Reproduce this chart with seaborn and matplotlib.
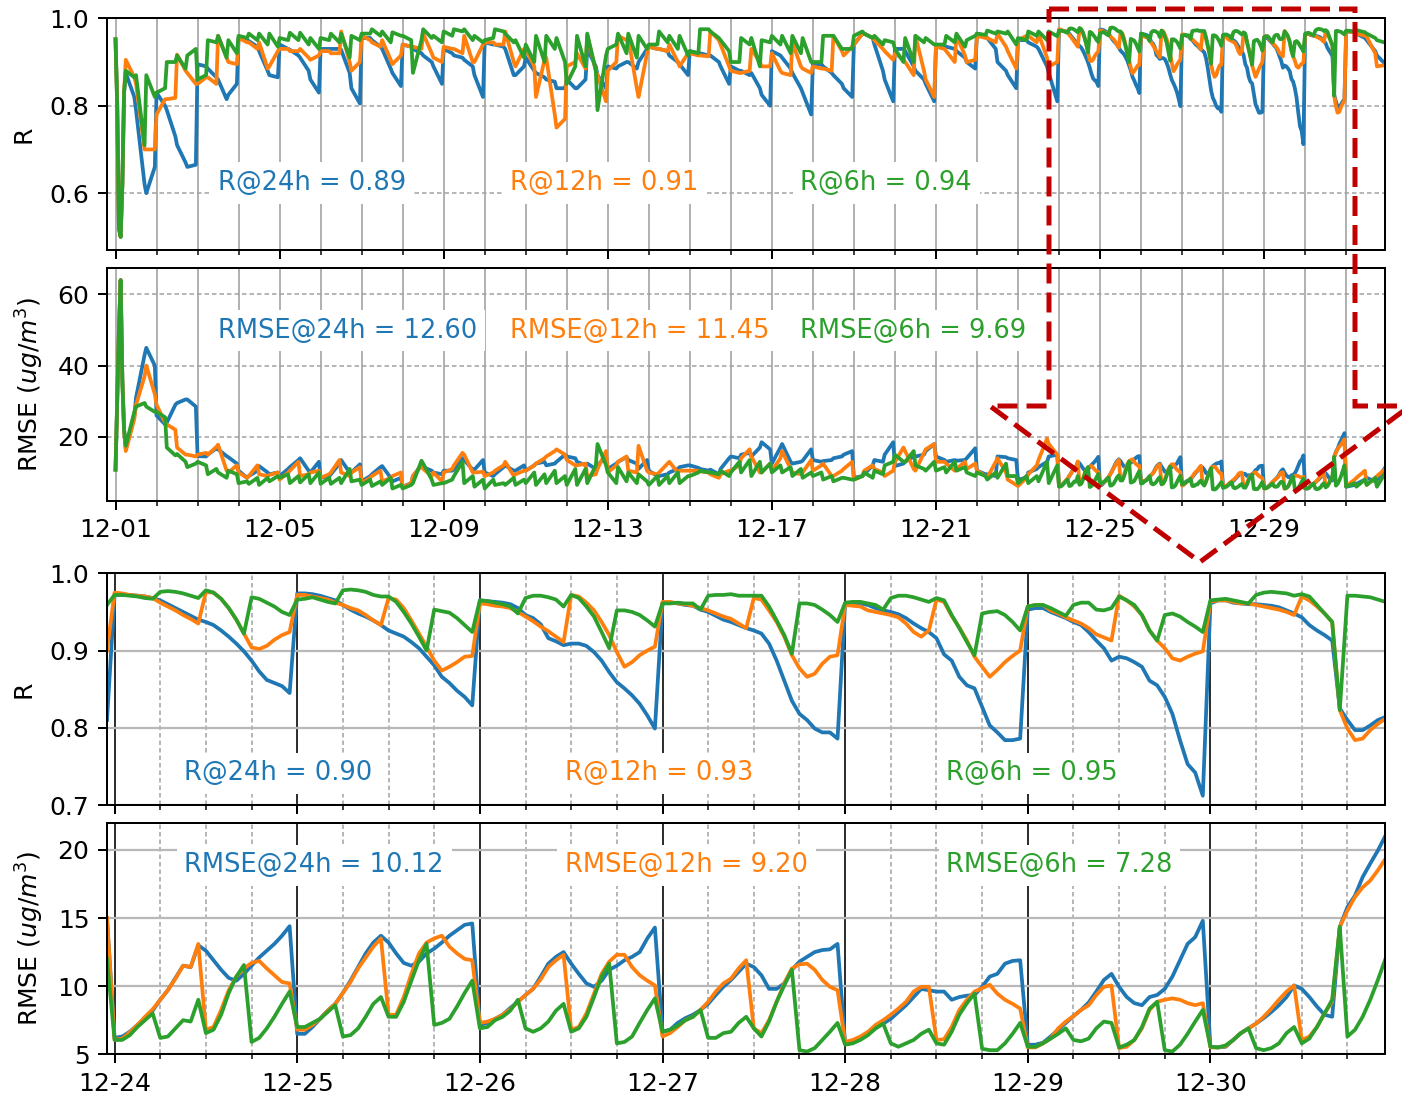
import pandas as pd
import matplotlib
matplotlib.use('Agg')
import matplotlib.pyplot as plt
import matplotlib.dates as mdates
from matplotlib.patches import Polygon
import seaborn as sns

# sampled hours within a day (full-month panels); zoom panels are hourly
DAY0_HOURS = [0, 1, 2, 3, 4, 5, 6, 11, 12, 17, 18, 23]
DAY_HOURS = [0, 5, 6, 11, 12, 17, 18, 23]
START = pd.Timestamp('2019-12-01')

LEADS = ['24h', '12h', '6h']
COLORS = ['#1f77b4', '#ff7f0e', '#2ca02c']

# ---------------- R, 12-01 ----------------
r24_dec01 = [0.952, 0.80, 0.52, 0.50, 0.62, 0.83, 0.875, 0.82, 0.79, 0.62, 0.60, 0.66]
r12_dec01 = [0.952, 0.80, 0.52, 0.50, 0.62, 0.83, 0.905, 0.865, 0.85, 0.70, 0.70, 0.70]
r6_dec01 = [0.952, 0.80, 0.52, 0.50, 0.62, 0.83, 0.88, 0.865, 0.87, 0.71, 0.87, 0.82]

# ---------------- R, 12-02 .. 12-23 (DAY_HOURS) ----------------
r24_early = [
    [0.83, 0.80, 0.79, 0.73, 0.71, 0.67, 0.66, 0.665],
    [0.895, 0.89, 0.885, 0.865, 0.86, 0.815, 0.825, 0.85],
    [0.955, 0.95, 0.948, 0.935, 0.925, 0.88, 0.87, 0.865],
    [0.94, 0.93, 0.928, 0.915, 0.91, 0.88, 0.86, 0.83],
    [0.93, 0.93, 0.93, 0.93, 0.928, 0.875, 0.84, 0.805],
    [0.955, 0.955, 0.95, 0.935, 0.93, 0.885, 0.875, 0.845],
    [0.94, 0.935, 0.93, 0.92, 0.915, 0.90, 0.89, 0.85],
    [0.93, 0.92, 0.915, 0.91, 0.905, 0.89, 0.87, 0.82],
    [0.945, 0.94, 0.94, 0.935, 0.93, 0.87, 0.87, 0.89],
    [0.91, 0.88, 0.875, 0.865, 0.86, 0.855, 0.84, 0.84],
    [0.86, 0.84, 0.84, 0.86, 0.93, 0.89, 0.87, 0.84],
    [0.89, 0.885, 0.89, 0.90, 0.90, 0.885, 0.90, 0.93],
    [0.935, 0.93, 0.93, 0.925, 0.915, 0.90, 0.895, 0.87],
    [0.925, 0.92, 0.92, 0.915, 0.915, 0.90, 0.89, 0.85],
    [0.89, 0.88, 0.88, 0.87, 0.875, 0.84, 0.825, 0.80],
    [0.925, 0.915, 0.91, 0.885, 0.875, 0.84, 0.83, 0.78],
    [0.895, 0.895, 0.89, 0.875, 0.87, 0.85, 0.84, 0.82],
    [0.94, 0.965, 0.965, 0.955, 0.94, 0.88, 0.86, 0.81],
    [0.93, 0.93, 0.925, 0.89, 0.88, 0.86, 0.85, 0.81],
    [0.935, 0.936, 0.935, 0.93, 0.925, 0.91, 0.90, 0.885],
    [0.965, 0.96, 0.955, 0.93, 0.90, 0.88, 0.87, 0.84],
    [0.95, 0.95, 0.945, 0.935, 0.93, 0.89, 0.875, 0.81],
]
r12_early = [
    [0.78, 0.815, 0.815, 0.818, 0.917, 0.88, 0.875, 0.85],
    [0.85, 0.865, 0.865, 0.85, 0.96, 0.91, 0.90, 0.895],
    [0.955, 0.945, 0.945, 0.93, 0.945, 0.885, 0.89, 0.925],
    [0.93, 0.93, 0.925, 0.925, 0.93, 0.91, 0.905, 0.915],
    [0.925, 0.925, 0.92, 0.92, 0.97, 0.90, 0.88, 0.90],
    [0.96, 0.95, 0.945, 0.935, 0.95, 0.905, 0.895, 0.915],
    [0.94, 0.935, 0.935, 0.93, 0.965, 0.92, 0.91, 0.90],
    [0.935, 0.93, 0.93, 0.92, 0.96, 0.90, 0.90, 0.94],
    [0.945, 0.945, 0.94, 0.94, 0.97, 0.90, 0.89, 0.93],
    [0.93, 0.89, 0.82, 0.905, 0.91, 0.78, 0.75, 0.77],
    [0.89, 0.90, 0.92, 0.885, 0.96, 0.88, 0.87, 0.81],
    [0.88, 0.90, 0.96, 0.95, 0.955, 0.84, 0.82, 0.92],
    [0.935, 0.93, 0.93, 0.925, 0.94, 0.90, 0.89, 0.92],
    [0.92, 0.915, 0.915, 0.913, 0.97, 0.95, 0.94, 0.89],
    [0.88, 0.875, 0.875, 0.88, 0.93, 0.90, 0.89, 0.89],
    [0.92, 0.88, 0.875, 0.87, 0.945, 0.89, 0.885, 0.875],
    [0.89, 0.885, 0.885, 0.88, 0.96, 0.925, 0.915, 0.935],
    [0.94, 0.965, 0.965, 0.955, 0.95, 0.93, 0.925, 0.905],
    [0.92, 0.905, 0.90, 0.87, 0.96, 0.88, 0.86, 0.82],
    [0.935, 0.93, 0.925, 0.90, 0.96, 0.915, 0.90, 0.905],
    [0.96, 0.955, 0.955, 0.945, 0.965, 0.935, 0.925, 0.885],
    [0.95, 0.96, 0.96, 0.945, 0.965, 0.91, 0.89, 0.90],
]
r6_early = [
    [0.83, 0.84, 0.90, 0.90, 0.915, 0.885, 0.915, 0.93],
    [0.86, 0.87, 0.95, 0.945, 0.96, 0.91, 0.95, 0.92],
    [0.96, 0.955, 0.965, 0.95, 0.965, 0.94, 0.965, 0.935],
    [0.955, 0.95, 0.967, 0.95, 0.967, 0.94, 0.955, 0.93],
    [0.955, 0.95, 0.965, 0.945, 0.965, 0.91, 0.96, 0.95],
    [0.965, 0.965, 0.975, 0.96, 0.97, 0.945, 0.968, 0.96],
    [0.96, 0.95, 0.875, 0.95, 0.975, 0.955, 0.96, 0.945],
    [0.97, 0.96, 0.975, 0.97, 0.975, 0.95, 0.96, 0.945],
    [0.95, 0.955, 0.975, 0.97, 0.965, 0.945, 0.95, 0.91],
    [0.94, 0.90, 0.96, 0.90, 0.96, 0.93, 0.955, 0.90],
    [0.85, 0.89, 0.96, 0.89, 0.965, 0.88, 0.79, 0.915],
    [0.93, 0.94, 0.965, 0.92, 0.965, 0.91, 0.96, 0.93],
    [0.94, 0.94, 0.97, 0.945, 0.96, 0.93, 0.96, 0.915],
    [0.925, 0.92, 0.975, 0.975, 0.97, 0.955, 0.95, 0.925],
    [0.90, 0.90, 0.955, 0.94, 0.955, 0.89, 0.95, 0.945],
    [0.96, 0.94, 0.96, 0.92, 0.96, 0.92, 0.955, 0.90],
    [0.90, 0.90, 0.96, 0.96, 0.96, 0.93, 0.93, 0.93],
    [0.96, 0.97, 0.965, 0.955, 0.96, 0.94, 0.95, 0.945],
    [0.93, 0.90, 0.955, 0.90, 0.96, 0.945, 0.955, 0.94],
    [0.94, 0.94, 0.96, 0.945, 0.965, 0.935, 0.95, 0.96],
    [0.965, 0.962, 0.972, 0.965, 0.97, 0.965, 0.97, 0.94],
    [0.955, 0.95, 0.97, 0.96, 0.97, 0.95, 0.97, 0.959],
]

# ---------------- R, 12-24 .. 12-30 (hourly) ----------------
r24_zoom = [
    [0.972, 0.972, 0.972, 0.971, 0.970, 0.968, 0.965, 0.960, 0.955, 0.950, 0.945, 0.940,
     0.937, 0.933, 0.926, 0.918, 0.909, 0.899, 0.887, 0.873, 0.862, 0.858, 0.854, 0.845],
    [0.974, 0.974, 0.973, 0.971, 0.968, 0.965, 0.959, 0.953, 0.948, 0.944, 0.939, 0.933,
     0.926, 0.922, 0.918, 0.911, 0.903, 0.892, 0.881, 0.866, 0.858, 0.848, 0.840, 0.829],
    [0.965, 0.964, 0.963, 0.962, 0.960, 0.955, 0.946, 0.942, 0.934, 0.916, 0.912, 0.907,
     0.909, 0.909, 0.906, 0.898, 0.887, 0.872, 0.859, 0.851, 0.842, 0.831, 0.816, 0.799],
    [0.961, 0.962, 0.961, 0.959, 0.958, 0.953, 0.950, 0.945, 0.940, 0.937, 0.933, 0.929,
     0.926, 0.922, 0.909, 0.887, 0.861, 0.835, 0.818, 0.810, 0.799, 0.794, 0.794, 0.786],
    [0.961, 0.962, 0.961, 0.959, 0.955, 0.952, 0.950, 0.947, 0.942, 0.935, 0.929, 0.924,
     0.916, 0.895, 0.887, 0.866, 0.855, 0.851, 0.827, 0.803, 0.794, 0.784, 0.784, 0.786],
    [0.953, 0.955, 0.955, 0.950, 0.946, 0.942, 0.937, 0.933, 0.924, 0.913, 0.903, 0.887,
     0.892, 0.890, 0.885, 0.879, 0.861, 0.855, 0.840, 0.818, 0.784, 0.753, 0.742, 0.712],
    [0.961, 0.965, 0.965, 0.962, 0.961, 0.960, 0.960, 0.959, 0.958, 0.956, 0.952, 0.948,
     0.943, 0.933, 0.926, 0.920, 0.913, 0.825, 0.810, 0.797, 0.797, 0.803, 0.810, 0.814],
]
r12_zoom = [
    [0.975, 0.974, 0.972, 0.971, 0.970, 0.968, 0.962, 0.957, 0.952, 0.946, 0.941, 0.935,
     0.976, 0.975, 0.967, 0.955, 0.940, 0.922, 0.904, 0.902, 0.906, 0.914, 0.920, 0.924],
    [0.972, 0.972, 0.970, 0.968, 0.966, 0.962, 0.959, 0.955, 0.952, 0.946, 0.939, 0.933,
     0.968, 0.966, 0.955, 0.939, 0.922, 0.905, 0.887, 0.874, 0.879, 0.885, 0.892, 0.893],
    [0.961, 0.960, 0.958, 0.957, 0.955, 0.950, 0.944, 0.938, 0.931, 0.925, 0.918, 0.911,
     0.972, 0.970, 0.962, 0.952, 0.937, 0.920, 0.898, 0.879, 0.885, 0.894, 0.900, 0.905],
    [0.963, 0.963, 0.961, 0.960, 0.958, 0.955, 0.952, 0.948, 0.944, 0.941, 0.935, 0.929,
     0.968, 0.966, 0.952, 0.937, 0.918, 0.894, 0.877, 0.866, 0.870, 0.883, 0.892, 0.894],
    [0.959, 0.958, 0.957, 0.952, 0.950, 0.948, 0.946, 0.943, 0.935, 0.924, 0.918, 0.926,
     0.966, 0.963, 0.945, 0.930, 0.913, 0.892, 0.879, 0.866, 0.875, 0.885, 0.893, 0.900],
    [0.957, 0.959, 0.959, 0.952, 0.948, 0.943, 0.939, 0.935, 0.929, 0.921, 0.917, 0.913,
     0.971, 0.965, 0.957, 0.946, 0.926, 0.913, 0.903, 0.890, 0.887, 0.892, 0.896, 0.899],
    [0.963, 0.965, 0.965, 0.963, 0.961, 0.961, 0.959, 0.957, 0.955, 0.953, 0.950, 0.946,
     0.970, 0.965, 0.957, 0.948, 0.937, 0.823, 0.799, 0.784, 0.786, 0.797, 0.805, 0.812],
]
r6_zoom = [
    [0.972, 0.972, 0.971, 0.970, 0.968, 0.967, 0.976, 0.977, 0.976, 0.974, 0.971, 0.968,
     0.978, 0.975, 0.967, 0.955, 0.940, 0.922, 0.969, 0.967, 0.962, 0.957, 0.950, 0.946],
    [0.966, 0.967, 0.969, 0.966, 0.963, 0.961, 0.978, 0.979, 0.978, 0.976, 0.972, 0.970,
     0.970, 0.963, 0.950, 0.935, 0.918, 0.900, 0.953, 0.951, 0.949, 0.942, 0.933, 0.924],
    [0.965, 0.964, 0.962, 0.960, 0.957, 0.948, 0.968, 0.971, 0.971, 0.969, 0.966, 0.957,
     0.972, 0.968, 0.957, 0.944, 0.924, 0.903, 0.952, 0.952, 0.950, 0.946, 0.939, 0.931],
    [0.961, 0.961, 0.962, 0.961, 0.961, 0.953, 0.971, 0.972, 0.972, 0.973, 0.971, 0.971,
     0.971, 0.971, 0.957, 0.939, 0.920, 0.896, 0.961, 0.961, 0.959, 0.953, 0.946, 0.937],
    [0.962, 0.963, 0.963, 0.961, 0.959, 0.953, 0.968, 0.971, 0.971, 0.969, 0.966, 0.963,
     0.968, 0.965, 0.946, 0.929, 0.911, 0.894, 0.948, 0.950, 0.951, 0.946, 0.937, 0.926],
    [0.957, 0.959, 0.959, 0.955, 0.950, 0.945, 0.959, 0.962, 0.962, 0.953, 0.952, 0.955,
     0.970, 0.965, 0.959, 0.946, 0.926, 0.913, 0.946, 0.948, 0.944, 0.937, 0.931, 0.924],
    [0.965, 0.966, 0.967, 0.965, 0.963, 0.961, 0.972, 0.975, 0.976, 0.975, 0.974, 0.971,
     0.973, 0.970, 0.959, 0.948, 0.937, 0.823, 0.971, 0.971, 0.970, 0.969, 0.966, 0.963],
]

# ---------------- R, 12-31 (DAY_HOURS) ----------------
r24_dec31 = [0.970, 0.968, 0.965, 0.955, 0.950, 0.925, 0.915, 0.895]
r12_dec31 = [0.970, 0.968, 0.965, 0.960, 0.958, 0.920, 0.890, 0.893]
r6_dec31 = [0.972, 0.970, 0.973, 0.968, 0.965, 0.955, 0.950, 0.944]

# ---------------- RMSE, 12-01 ----------------
rmse24_dec01 = [10.8, 30, 50, 64, 36, 22, 16.5, 26, 31, 43, 45, 40]
rmse12_dec01 = [10.8, 30, 50, 64, 36, 22, 16, 25, 29, 37, 40, 32]
rmse6_dec01 = [10.8, 30, 50, 64, 36, 22, 17.5, 27, 28.5, 29.5, 28.5, 27]

# ---------------- RMSE, 12-02 .. 12-23 (DAY_HOURS) ----------------
rmse24_early = [
    [26, 23.5, 24, 29, 29.5, 30.5, 30.5, 28.5],
    [14.6, 14.5, 15, 16.8, 16.5, 14.6, 14.3, 12.5],
    [10.5, 8.5, 9, 10.5, 11.8, 10, 9.5, 10],
    [9, 11, 11.5, 13.5, 14, 10.5, 10, 13],
    [8.5, 9, 9.5, 12.5, 13.5, 10, 10, 12.3],
    [7.5, 9, 9.5, 11.5, 11.8, 8.5, 7.5, 8.5],
    [6, 7, 9, 12, 11.5, 10.5, 10, 9.5],
    [10.5, 10.5, 10.8, 14, 13.5, 10.8, 10.8, 13.5],
    [10, 9, 9.5, 11.5, 12, 10.5, 10.5, 12],
    [10.5, 12, 12.5, 13, 12, 12.5, 13, 15],
    [14.5, 14, 13, 12, 12.5, 11, 12, 14.5],
    [11, 12.5, 13, 14.3, 13.5, 12.5, 11, 13.5],
    [10.5, 9, 9, 9.5, 10, 11, 11.5, 12],
    [12, 11.3, 11, 10.5, 10.8, 9.5, 11, 14],
    [14.5, 14, 15, 15.5, 14.5, 17, 18.5, 16.5],
    [12.5, 17, 18, 13, 12.5, 13, 13.3, 16.5],
    [13.5, 13, 13.2, 13.5, 14, 14.5, 15, 16],
    [8.5, 9, 9.5, 12, 13.5, 13, 15, 18.5],
    [11.8, 12.5, 13, 14.5, 14.5, 15, 16, 18],
    [14.5, 13.5, 13, 13.5, 13.3, 13.5, 14, 16.8],
    [10.5, 9.5, 9.5, 9, 14.5, 14.3, 14, 13.5],
    [8, 8.5, 10, 11, 11.5, 13, 14.5, 15],
]
rmse12_early = [
    [29, 24, 23.5, 22, 17, 15, 15, 14.5],
    [15, 15.5, 15, 17.2, 17.8, 10.5, 10, 12],
    [10, 8.5, 9, 12, 9.5, 9, 9.3, 10],
    [8, 10, 10.5, 13, 9, 9.5, 10, 10.5],
    [8.5, 9.5, 10, 13.5, 10, 9, 10, 11.5],
    [7, 8.5, 9, 10.5, 7.5, 8.5, 9, 10],
    [5.8, 7, 9, 12, 11, 9, 10, 7.5],
    [10, 11, 12, 15.5, 15, 10, 10, 10.2],
    [9, 10, 10.5, 12, 13, 9, 9.5, 10.5],
    [10.5, 12, 12.5, 14, 14.5, 16, 16.5, 15],
    [13.5, 12, 12, 12.5, 9, 9.5, 11, 16],
    [10, 12, 13, 14.5, 10.5, 10, 17.5, 10.5],
    [10, 9.5, 10, 12.5, 13, 10, 10.5, 10.5],
    [10.5, 10.5, 10.3, 10, 9.5, 8.5, 9.5, 10.5],
    [10.5, 12, 14, 16.5, 14.5, 10, 10, 12.5],
    [10.5, 14, 16, 11, 10, 9.5, 10, 13.5],
    [10.5, 12, 12.5, 9, 9, 10.5, 11, 13],
    [8, 9, 10.5, 12, 11, 10, 9, 10.5],
    [13, 17, 16, 11, 10.5, 15.5, 16.5, 18],
    [13, 13, 12.5, 10.5, 11, 13, 11, 12.5],
    [10.5, 9, 8.5, 13, 14, 10, 8, 6.5],
    [6.2, 8.5, 9.5, 12, 13.5, 19.5, 18, 15],
]
rmse6_early = [
    [27, 25.5, 17, 14.8, 15.2, 13, 11.5, 12.5],
    [13, 12, 9.5, 11, 10, 8.5, 10.5, 9.5],
    [7, 7.5, 6.8, 8.5, 6.5, 8.5, 7.5, 9],
    [8.5, 9.5, 7, 9, 7.2, 9.5, 7, 10],
    [6.8, 8.5, 6.8, 8.5, 7, 11, 7.5, 8],
    [6.5, 8, 6.2, 7.5, 6.5, 8.5, 5.5, 6.5],
    [5.5, 6.5, 7, 13.3, 12.5, 8, 6.5, 7],
    [7, 8, 9, 13, 7, 9, 6, 8],
    [5.5, 8, 6.5, 7, 6.5, 8.5, 6.5, 8],
    [7, 10, 6.5, 9.5, 7, 10.5, 7, 9],
    [6.5, 11, 6.5, 11, 7, 12, 18, 12],
    [10, 7, 11.5, 7.5, 10, 7, 9.5, 7.5],
    [6.5, 9, 6.5, 9, 7, 10, 7, 9],
    [9, 10, 10.5, 10, 10, 9.5, 10.5, 9],
    [10, 13, 10, 13.5, 9, 13, 10, 12.5],
    [10, 12, 10, 11.5, 9, 11, 8.5, 10],
    [9, 10, 8, 9, 7.5, 8.5, 8.5, 8],
    [8, 9, 10, 8.5, 10.5, 9.5, 12, 13],
    [15, 13, 13, 16, 12, 11, 10.5, 13],
    [10.5, 11.5, 10, 13, 10.5, 11.5, 10, 9],
    [10, 9, 8, 10, 8.5, 12.5, 9, 9],
    [7, 9, 7, 9, 7.5, 13, 7, 12],
]

# ---------------- RMSE, 12-24 .. 12-30 (hourly) ----------------
rmse24_zoom = [
    [6.2, 6.3, 6.65, 7.15, 7.6, 8.2, 9.0, 9.7, 10.6, 11.5, 11.4, 13.0,
     12.6, 11.9, 11.2, 10.6, 10.4, 10.9, 11.5, 12.1, 12.6, 13.1, 13.7, 14.4],
    [6.5, 6.5, 7.0, 7.6, 8.2, 8.7, 9.5, 10.4, 11.4, 12.4, 13.2, 13.7,
     13.2, 12.4, 11.7, 11.5, 11.8, 12.4, 12.75, 13.2, 13.7, 14.1, 14.5, 14.6],
    [7.15, 7.3, 7.6, 7.9, 8.4, 8.85, 9.35, 9.8, 10.7, 11.65, 12.15, 12.5,
     11.65, 10.9, 10.2, 9.95, 10.4, 11.2, 11.5, 11.9, 12.15, 12.5, 13.5, 14.3],
    [6.65, 6.8, 7.3, 7.65, 7.9, 8.25, 8.7, 9.35, 9.95, 10.45, 11.05, 11.65,
     11.4, 10.8, 9.8, 9.8, 10.2, 11.2, 11.8, 12.15, 12.5, 12.65, 12.7, 13.1],
    [5.8, 5.9, 6.15, 6.5, 6.9, 7.25, 7.6, 8.1, 8.6, 9.2, 9.8, 9.7,
     9.6, 9.6, 9.0, 9.2, 9.3, 9.35, 9.95, 10.7, 10.9, 11.65, 11.85, 11.9],
    [5.7, 5.7, 5.85, 6.3, 6.8, 7.3, 7.8, 8.25, 8.8, 9.6, 10.45, 10.9,
     9.95, 9.2, 8.75, 8.6, 9.2, 9.35, 9.8, 10.7, 11.9, 13.1, 13.6, 14.8],
    [5.55, 5.5, 5.55, 6.05, 6.55, 6.9, 7.25, 7.65, 8.1, 8.6, 9.2, 10.05,
     9.8, 9.2, 8.5, 7.9, 7.75, 14.35, 15.8, 16.65, 18.0, 19.0, 19.95, 21.05],
]
rmse12_zoom = [
    [6.05, 6.15, 6.6, 7.15, 7.75, 8.3, 9.0, 9.7, 10.55, 11.5, 11.4, 13.1,
     6.8, 7.0, 8.25, 9.7, 10.7, 11.3, 11.7, 11.85, 11.3, 10.8, 10.3, 10.2],
    [6.8, 6.8, 7.15, 7.6, 8.2, 8.7, 9.5, 10.3, 11.3, 12.1, 12.9, 13.5,
     7.9, 7.9, 9.2, 10.9, 12.4, 13.2, 13.5, 13.7, 12.9, 12.4, 12.0, 11.9],
    [7.3, 7.4, 7.6, 7.9, 8.3, 8.85, 9.35, 9.8, 10.5, 11.4, 11.9, 12.3,
     6.8, 7.0, 8.0, 9.45, 10.9, 11.8, 12.3, 12.3, 11.4, 10.8, 10.4, 10.05],
    [6.3, 6.55, 7.0, 7.5, 7.75, 8.25, 8.85, 9.6, 10.2, 10.55, 11.3, 11.9,
     6.9, 6.55, 7.5, 8.85, 10.2, 11.3, 11.6, 11.65, 11.2, 10.45, 9.95, 9.7],
    [5.9, 6.05, 6.3, 6.65, 7.15, 7.5, 7.9, 8.35, 8.85, 9.6, 9.95, 9.95,
     6.05, 6.1, 7.0, 8.25, 9.0, 9.6, 9.85, 10.1, 9.45, 9.0, 8.7, 8.35],
    [5.5, 5.5, 5.8, 6.15, 6.9, 7.4, 7.8, 8.25, 8.6, 9.35, 9.95, 10.05,
     5.45, 5.55, 6.05, 6.9, 8.25, 8.85, 9.0, 9.1, 9.0, 8.75, 8.6, 8.75],
    [5.5, 5.5, 5.6, 6.05, 6.55, 6.9, 7.25, 7.75, 8.35, 9.0, 9.6, 10.05,
     6.05, 6.3, 7.0, 8.0, 8.85, 14.35, 15.55, 16.55, 17.25, 17.75, 18.5, 19.35],
]
rmse6_zoom = [
    [6.05, 6.05, 6.4, 7.0, 7.5, 8.0, 6.2, 6.3, 6.9, 7.5, 7.4, 9.0,
     6.55, 6.8, 7.9, 9.5, 10.7, 11.55, 5.9, 6.2, 6.9, 7.75, 8.7, 9.6],
    [7.0, 7.0, 7.3, 7.6, 8.1, 8.6, 6.3, 6.4, 6.9, 7.75, 8.7, 9.2,
     7.75, 7.75, 8.85, 10.4, 11.9, 13.1, 7.15, 7.3, 7.6, 8.5, 9.5, 10.4],
    [6.9, 7.0, 7.5, 7.75, 8.2, 9.0, 6.9, 6.65, 6.9, 7.4, 8.2, 8.7,
     6.65, 6.9, 7.75, 9.2, 10.7, 11.65, 5.8, 5.9, 6.3, 7.3, 8.25, 9.1],
    [6.65, 6.8, 7.1, 7.5, 7.75, 8.25, 6.2, 6.2, 6.55, 6.65, 7.3, 7.75,
     6.9, 6.3, 7.4, 8.85, 10.05, 11.2, 5.3, 5.2, 5.45, 6.05, 6.65, 7.3],
    [5.7, 5.8, 6.05, 6.4, 6.9, 7.25, 5.8, 5.55, 5.8, 6.05, 6.5, 6.8,
     5.8, 5.7, 6.65, 7.9, 8.75, 9.45, 5.4, 5.3, 5.3, 5.8, 6.5, 7.3],
    [5.55, 5.55, 5.8, 6.15, 6.5, 6.9, 6.05, 5.95, 6.15, 6.9, 7.4, 7.3,
     5.5, 5.7, 6.05, 7.0, 8.35, 8.85, 5.3, 5.2, 5.7, 6.5, 7.4, 8.25],
    [5.55, 5.5, 5.65, 6.05, 6.55, 6.9, 5.45, 5.3, 5.45, 5.8, 6.55, 7.0,
     5.8, 6.15, 7.0, 8.0, 9.0, 14.35, 6.3, 6.8, 7.75, 9.0, 10.45, 12.0],
]

# ---------------- RMSE, 12-31 (DAY_HOURS) ----------------
rmse24_dec31 = [6, 6.5, 6.8, 8, 8.5, 7.5, 8, 11.5]
rmse12_dec31 = [6.2, 8, 8.5, 10.5, 6.5, 8.5, 9, 11]
rmse6_dec31 = [6, 7, 6, 8, 6.5, 8.5, 6, 10]

# annotation texts
top_r_text = ['R@24h = 0.89', 'R@12h = 0.91', 'R@6h = 0.94']
top_rmse_text = ['RMSE@24h = 12.60', 'RMSE@12h = 11.45', 'RMSE@6h = 9.69']
zoom_r_text = ['R@24h = 0.90', 'R@12h = 0.93', 'R@6h = 0.95']
zoom_rmse_text = ['RMSE@24h = 10.12', 'RMSE@12h = 9.20', 'RMSE@6h = 7.28']


def stamps(day, hours):
    return [START + pd.Timedelta(days=day, hours=int(h)) for h in hours]


def flat(rows):
    return [v for row in rows for v in row]


top_times = (stamps(0, DAY0_HOURS)
             + flat(stamps(d, DAY_HOURS) for d in range(1, 23))
             + stamps(23, range(24 * 7))
             + stamps(30, DAY_HOURS))
zoom_times = stamps(22, [23]) + stamps(23, range(24 * 7))


def month_frame(series):
    parts = []
    for lead, (d01, early, zoom, d31) in zip(LEADS, series):
        vals = d01 + flat(early) + flat(zoom) + d31
        parts.append(pd.DataFrame({'time': top_times, 'value': vals, 'lead': lead}))
    return pd.concat(parts, ignore_index=True)


def zoom_frame(series):
    parts = []
    for lead, (early, zoom) in zip(LEADS, series):
        vals = [early[-1][-1]] + flat(zoom)
        parts.append(pd.DataFrame({'time': zoom_times, 'value': vals, 'lead': lead}))
    return pd.concat(parts, ignore_index=True)


top_r = month_frame([(r24_dec01, r24_early, r24_zoom, r24_dec31),
                     (r12_dec01, r12_early, r12_zoom, r12_dec31),
                     (r6_dec01, r6_early, r6_zoom, r6_dec31)])
top_rmse = month_frame([(rmse24_dec01, rmse24_early, rmse24_zoom, rmse24_dec31),
                        (rmse12_dec01, rmse12_early, rmse12_zoom, rmse12_dec31),
                        (rmse6_dec01, rmse6_early, rmse6_zoom, rmse6_dec31)])
bot_r = zoom_frame([(r24_early, r24_zoom), (r12_early, r12_zoom), (r6_early, r6_zoom)])
bot_rmse = zoom_frame([(rmse24_early, rmse24_zoom), (rmse12_early, rmse12_zoom),
                       (rmse6_early, rmse6_zoom)])

plt.rcParams['font.family'] = ['DejaVu Sans']
plt.rcParams['font.size'] = 10

fig = plt.figure(figsize=(1402 / 180, 1096 / 180), dpi=180)
L, W = 0.0763, 0.9119
ax1 = fig.add_axes([L, 0.7719, W, 0.2114])
ax2 = fig.add_axes([L, 0.5429, W, 0.2129])
ax3 = fig.add_axes([L, 0.2655, W, 0.2114])
ax4 = fig.add_axes([L, 0.0381, W, 0.2113])

for ax, df in [(ax1, top_r), (ax2, top_rmse), (ax3, bot_r), (ax4, bot_rmse)]:
    sns.lineplot(data=df, x='time', y='value', hue='lead', hue_order=LEADS,
                 palette=COLORS, estimator=None, legend=False, lw=1.5, ax=ax)
    ax.set_xlabel('')

dash = (0, (3, 2))
for ax in (ax1, ax2):
    ax.set_xlim(START - pd.Timedelta(hours=5), START + pd.Timedelta(days=30, hours=23))
    ax.xaxis.set_major_locator(mdates.DayLocator(bymonthday=[1, 5, 9, 13, 17, 21, 25, 29]))
    ax.xaxis.set_minor_locator(mdates.DayLocator())
    ax.xaxis.set_major_formatter(mdates.DateFormatter('%m-%d'))
    ax.grid(True, which='both', axis='x', color='#a8a8a8', lw=0.7, ls='-')
    ax.grid(True, which='major', axis='y', color='#a0a0a0', lw=0.6, ls=dash)
ax1.tick_params(labelbottom=False)
ax1.set_ylim(0.47, 1.0)
ax1.set_yticks([0.6, 0.8, 1.0])
ax2.set_ylim(2, 67.5)
ax2.set_yticks([20, 40, 60])

for ax in (ax3, ax4):
    ax.set_xlim(START + pd.Timedelta(days=22, hours=23), START + pd.Timedelta(days=29, hours=23))
    ax.xaxis.set_major_locator(mdates.DayLocator())
    ax.xaxis.set_minor_locator(mdates.HourLocator(byhour=[6, 12, 18]))
    ax.xaxis.set_major_formatter(mdates.DateFormatter('%m-%d'))
    ax.grid(True, which='major', axis='x', color='#303030', lw=0.8, ls='-')
    ax.grid(True, which='minor', axis='x', color='#a0a0a0', lw=0.6, ls=dash)
    ax.grid(True, which='major', axis='y', color='#b8b8b8', lw=0.9, ls='-')
ax3.tick_params(labelbottom=False)
ax3.set_ylim(0.7, 1.0)
ax3.set_yticks([0.7, 0.8, 0.9, 1.0])
ax4.set_ylim(5, 22)
ax4.set_yticks([5, 10, 15, 20])

for ax in (ax1, ax3):
    ax.set_ylabel('R')
    ax.yaxis.set_label_coords(-0.056, 0.5)
for ax in (ax2, ax4):
    ax.set_ylabel(r'RMSE ($ug/m^3$)')
    ax.yaxis.set_label_coords(-0.048, 0.5)

box = dict(boxstyle='square,pad=0.3', fc='white', ec='none')
for ax, texts, xs, y in [(ax1, top_r_text, [0.0871, 0.315, 0.5423], 0.289),
                         (ax2, top_rmse_text, [0.0871, 0.315, 0.5423], 0.73),
                         (ax3, zoom_r_text, [0.0605, 0.3584, 0.6565], 0.137),
                         (ax4, zoom_rmse_text, [0.0605, 0.3584, 0.6565], 0.816)]:
    for s, x, c in zip(texts, xs, COLORS):
        ax.text(x, y, s, color=c, fontsize=10.3, transform=ax.transAxes,
                ha='left', va='center', bbox=box, zorder=5)

# dashed zoom arrow (figure pixel outline converted to figure fraction)
outline_px = [(1049, 9), (1355, 9), (1355, 406), (1410, 406), (1200, 562),
              (990, 406), (1049, 406)]
outline = [(x / 1402, 1 - y / 1096) for x, y in outline_px]
fig.add_artist(Polygon(outline, closed=True, fill=False, edgecolor='#c00000',
                       lw=2, ls=(0, (4, 1.8)), transform=fig.transFigure,
                       zorder=20, clip_on=False))

fig.savefig('out.png', dpi=180)
